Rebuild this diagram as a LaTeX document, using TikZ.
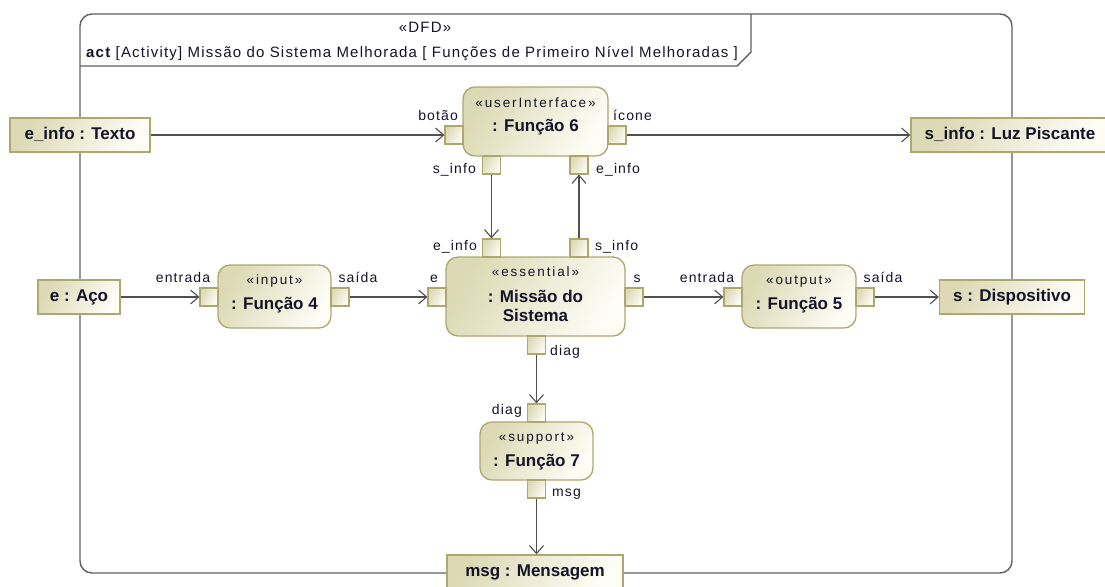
\documentclass[tikz,border=0pt]{standalone}
\usepackage{fontspec}
\setmainfont{Liberation Sans}
\newfontfamily\labelfont[LetterSpace=8]{Liberation Sans}
\newfontfamily\stereofont[LetterSpace=14]{Liberation Sans}
\usetikzlibrary{arrows.meta}

\definecolor{umlBorder}{RGB}{172,168,112}
\definecolor{fillDark}{RGB}{220,217,180}
\definecolor{fillLight}{RGB}{253,253,246}
\definecolor{flowGray}{RGB}{80,80,80}
\definecolor{frameGray}{RGB}{96,96,96}
\definecolor{textDark}{RGB}{20,20,40}

\tikzset{
  shaded/.style={left color=fillDark, right color=fillLight, shading angle=60},
  objnode/.style={shaded, draw=umlBorder, line width=1.3pt, minimum height=34pt,
    inner sep=0pt, text=textDark, font=\bfseries\fontsize{17}{20}\selectfont,
    text height=12.5pt, text depth=3.5pt},
  fnnode/.style={shaded, draw=umlBorder, line width=1.3pt, rounded corners=12pt, inner sep=0pt},
  pinnode/.style={shaded, draw=umlBorder, line width=1.2pt, minimum width=18pt,
    minimum height=18pt, inner sep=0pt},
  lbl/.style={inner sep=0pt, text=textDark, font=\labelfont\fontsize{14}{16}\selectfont},
  hdr/.style={inner sep=0pt, text=textDark, font=\labelfont\fontsize{15}{17}\selectfont},
  stereo/.style={inner sep=0pt, text=textDark, font=\stereofont\fontsize{13.5}{15}\selectfont, anchor=base},
  fname/.style={inner sep=0pt, text=textDark, font=\bfseries\fontsize{17}{20}\selectfont, anchor=base},
  flow/.style={draw=flowGray, line width=1.1pt, -{Straight Barb[length=8pt,width=14pt,line width=1.1pt]}},
  frameline/.style={draw=frameGray, line width=1.4pt}
}

\begin{document}
\begin{tikzpicture}[x=1pt,y=-1pt]
\useasboundingbox (0,0) rectangle (1105,586);

% diagram frame with its header tab
\draw[frameline, rounded corners=12pt] (80,14) rectangle (1012,573);
\draw[frameline] (80,66) -- (737,66) -- (751,52) -- (751,14);
\node[hdr, anchor=base] (hdrstereo) at (425,33) {«DFD»};
\node[hdr, anchor=base west] (hdrtitle) at (86,57) {{\bfseries act} [Activity] Missão do Sistema Melhorada [ Funções de Primeiro Nível Melhoradas ]};

% activity parameter nodes on the frame border
\node[objnode, minimum width=140pt] (einfo) at (80,135) {e\_info : Texto};
\node[objnode, minimum width=198pt] (sinfo) at (1010,135) {s\_info : Luz Piscante};
\node[objnode, minimum width=82pt] (eaco) at (79,297) {e : Aço};
\node[objnode, minimum width=145pt] (sdisp) at (1012,297) {s : Dispositivo};
\node[objnode, minimum width=176pt] (msgobj) at (535,572) {msg : Mensagem};

% actions
\node[fnnode, minimum width=145pt, minimum height=69pt] (f6) at (535.5,121.5) {};
\node[fnnode, minimum width=179pt, minimum height=79pt] (miss) at (535.5,296.5) {};
\node[fnnode, minimum width=113pt, minimum height=63pt] (f4) at (274.5,296.5) {};
\node[fnnode, minimum width=114pt, minimum height=63pt] (f5) at (799,296.5) {};
\node[fnnode, minimum width=113pt, minimum height=58pt] (f7) at (536.5,451) {};

\node[stereo] (f6st) at (535.5,107.5) {«userInterface»};
\node[fname] (f6nm) at (535.5,131) {: Função 6};
\node[stereo] (missst) at (535.5,276.5) {«essential»};
\node[fname] (missnm) at (535.5,302) {: Missão do};
\node[fname] (missnm2) at (535.5,321) {Sistema};
\node[stereo] (f4st) at (274.5,284) {«input»};
\node[fname] (f4nm) at (274.5,309) {: Função 4};
\node[stereo] (f5st) at (799,284) {«output»};
\node[fname] (f5nm) at (799,309) {: Função 5};
\node[stereo] (f7st) at (536.5,441) {«support»};
\node[fname] (f7nm) at (536.5,466) {: Função 7};

% pins
\node[pinnode] (p6b) at (454,135) {};
\node[pinnode] (p6i) at (617,135) {};
\node[pinnode] (p6s) at (491.5,165) {};
\node[pinnode] (p6e) at (579,165) {};
\node[pinnode] (pMe) at (491.5,248) {};
\node[pinnode] (pMs) at (579,248) {};
\node[pinnode] (pMin) at (437,297) {};
\node[pinnode] (pMout) at (634,297) {};
\node[pinnode] (pMd) at (536.5,345) {};
\node[pinnode] (p4in) at (209,297) {};
\node[pinnode] (p4out) at (340,297) {};
\node[pinnode] (p5in) at (733,297) {};
\node[pinnode] (p5out) at (865,297) {};
\node[pinnode] (p7in) at (536.5,413) {};
\node[pinnode] (p7out) at (536.5,489) {};

% pin labels
\node[lbl, anchor=base east] (l6b) at (458,120) {botão};
\node[lbl, anchor=base west] (l6i) at (613,120) {ícone};
\node[lbl, anchor=base east] (l6s) at (476,173) {s\_info};
\node[lbl, anchor=base west] (l6e) at (596,173) {e\_info};
\node[lbl, anchor=base east] (lMe) at (477,250) {e\_info};
\node[lbl, anchor=base west] (lMs) at (595,250) {s\_info};
\node[lbl, anchor=base] (lMin) at (434,282) {e};
\node[lbl, anchor=base] (lMout) at (637,282) {s};
\node[lbl, anchor=base] (l4in) at (183,282) {entrada};
\node[lbl, anchor=base] (l4out) at (358,282) {saída};
\node[lbl, anchor=base] (l5in) at (707,282) {entrada};
\node[lbl, anchor=base] (l5out) at (883,282) {saída};
\node[lbl, anchor=base west] (lMd) at (550,355) {diag};
\node[lbl, anchor=base east] (l7in) at (522,414) {diag};
\node[lbl, anchor=base west] (l7out) at (552,496) {msg};

% object flows
\draw[flow] (einfo.east) -- (p6b.west);
\draw[flow] (p6i.east) -- (sinfo.west);
\draw[flow] (p6s.south) -- (pMe.north);
\draw[flow] (pMs.north) -- (p6e.south);
\draw[flow] (eaco.east) -- (p4in.west);
\draw[flow] (p4out.east) -- (pMin.west);
\draw[flow] (pMout.east) -- (p5in.west);
\draw[flow] (p5out.east) -- (sdisp.west);
\draw[flow] (pMd.south) -- (p7in.north);
\draw[flow] (p7out.south) -- (p7out.south |- msgobj.north);
\end{tikzpicture}
\end{document}
